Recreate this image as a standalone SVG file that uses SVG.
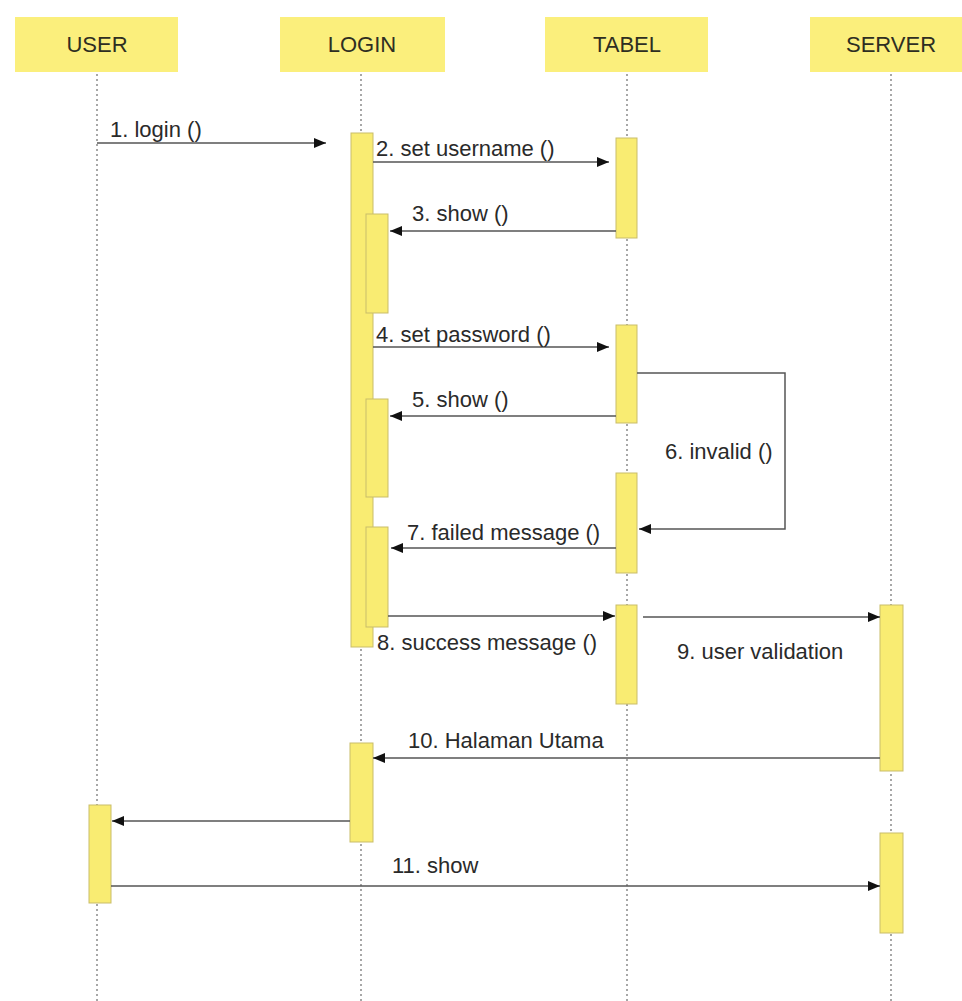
<svg xmlns="http://www.w3.org/2000/svg" width="962" height="1001" viewBox="0 0 962 1001">
  <style>
    .head { fill: #fbef7c; }
    .headtext { font-family: "Liberation Sans", Arial, sans-serif; font-size: 22px; fill: #2e2e22; text-anchor: middle; }
    .life { stroke: #8a8a8a; stroke-width: 1.5; stroke-dasharray: 2 3; fill: none; }
    .act { fill: #f9ec72; stroke: #c9bd6a; stroke-width: 1; }
    .msg { stroke: #555; stroke-width: 1.5; fill: none; marker-end: url(#arrow); }
    .label { font-family: "Liberation Sans", Arial, sans-serif; font-size: 22px; fill: #2a2a2a; }
  </style>
  <defs>
    <marker id="arrow" viewBox="0 0 12 10" refX="12" refY="5" markerWidth="12" markerHeight="10" markerUnits="userSpaceOnUse" orient="auto">
      <path d="M0,0 L12,5 L0,10 z" fill="#111"/>
    </marker>
  </defs>
  <rect width="962" height="1001" fill="#ffffff"/>

  <!-- participants with lifelines -->
  <g id="user">
    <rect class="head" x="15" y="17" width="163" height="55"/>
    <text class="headtext" x="97" y="52">USER</text>
    <line class="life" x1="97" y1="74" x2="97" y2="1001"/>
  </g>
  <g id="login">
    <rect class="head" x="280" y="17" width="165" height="55"/>
    <text class="headtext" x="362" y="52">LOGIN</text>
    <line class="life" x1="361" y1="74" x2="361" y2="1001"/>
  </g>
  <g id="tabel">
    <rect class="head" x="545" y="17" width="163" height="55"/>
    <text class="headtext" x="627" y="52">TABEL</text>
    <line class="life" x1="627" y1="74" x2="627" y2="1001"/>
  </g>
  <g id="server">
    <rect class="head" x="810" y="17" width="152" height="55"/>
    <text class="headtext" x="891" y="52">SERVER</text>
    <line class="life" x1="891" y1="74" x2="891" y2="1001"/>
  </g>

  <!-- activation bars -->
  <g id="activations">
    <rect class="act" x="351" y="133" width="22" height="514"/>
    <rect class="act" x="366" y="214" width="22" height="99"/>
    <rect class="act" x="366" y="399" width="22" height="98"/>
    <rect class="act" x="366" y="527" width="22" height="100"/>
    <rect class="act" x="616" y="138" width="21" height="100"/>
    <rect class="act" x="616" y="325" width="21" height="98"/>
    <rect class="act" x="616" y="473" width="21" height="100"/>
    <rect class="act" x="616" y="605" width="21" height="99"/>
    <rect class="act" x="880" y="605" width="23" height="166"/>
    <rect class="act" x="880" y="833" width="23" height="100"/>
    <rect class="act" x="350" y="743" width="23" height="99"/>
    <rect class="act" x="89" y="805" width="22" height="98"/>
  </g>

  <!-- messages -->
  <g id="connectors">
    <line class="msg" x1="97" y1="143" x2="326" y2="143"/>
    <line class="msg" x1="373" y1="162" x2="609" y2="162"/>
    <line class="msg" x1="616" y1="231" x2="390" y2="231"/>
    <line class="msg" x1="373" y1="347" x2="609" y2="347"/>
    <line class="msg" x1="616" y1="416" x2="390" y2="416"/>
    <polyline class="msg" points="637,373 785,373 785,529 639,529"/>
    <line class="msg" x1="616" y1="548" x2="391" y2="548"/>
    <line class="msg" x1="388" y1="616" x2="615" y2="616"/>
    <line class="msg" x1="643" y1="617" x2="880" y2="617"/>
    <line class="msg" x1="880" y1="758" x2="373" y2="758"/>
    <line class="msg" x1="350" y1="821" x2="112" y2="821"/>
    <line class="msg" x1="111" y1="886" x2="880" y2="886"/>
  </g>

  <!-- message labels -->
  <g id="labels">
    <text class="label" x="110" y="137">1. login ()</text>
    <text class="label" x="376" y="156">2. set username ()</text>
    <text class="label" x="412" y="221">3. show ()</text>
    <text class="label" x="376" y="342">4. set password ()</text>
    <text class="label" x="412" y="407">5. show ()</text>
    <text class="label" x="665" y="459">6. invalid ()</text>
    <text class="label" x="407" y="540">7. failed message ()</text>
    <text class="label" x="377" y="650">8. success message ()</text>
    <text class="label" x="677" y="659">9. user validation</text>
    <text class="label" x="408" y="748">10. Halaman Utama</text>
    <text class="label" x="392" y="873">11. show</text>
  </g>
</svg>
